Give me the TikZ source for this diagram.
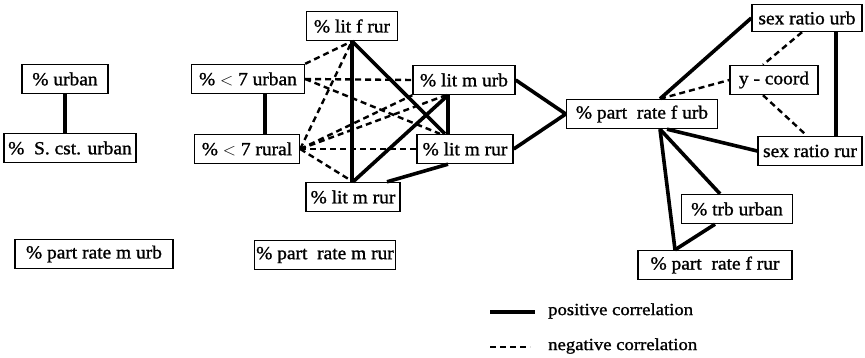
\documentclass[tikz,border=0pt]{standalone}
\usepackage{fontspec}
\setmainfont{Liberation Serif}
\newfontfamily\boxfont[FakeStretch=1.05,FakeBold=1.2]{Liberation Serif}
\newfontfamily\legfont[FakeStretch=1.1,FakeBold=1.2]{Liberation Serif}
\usetikzlibrary{calc}
\begin{document}
\begin{tikzpicture}[x=1pt,y=-1pt,
  var/.style={draw,line width=1.4pt,inner sep=2pt,minimum height=29pt,
    font=\boxfont\fontsize{18.5}{20}\selectfont,anchor=center},
  posline/.style={line width=3.6pt},
  negline/.style={line width=2.4pt,dash pattern=on 6pt off 4pt},
  legtext/.style={anchor=west,inner sep=0pt,font=\legfont\fontsize{17}{20}\selectfont}]
\useasboundingbox (0,0) rectangle (865,357);
% left
\node[var,minimum width=86pt] (urban) at (65,79) {\% urban};
\node[var,minimum width=132pt] (scst) at (70,148) {\% ~S. cst. urban};
\node[var,minimum width=158pt] (pmurb) at (94,254) {\% part rate m urb};
% middle
\node[var,minimum width=91pt] (litfrur) at (352,26) {\% lit f rur};
\node[var,minimum width=113pt] (lt7u) at (248,79) {\% $<$ 7 urban};
\node[var,minimum width=102pt] (litmurb) at (464,80) {\% lit m urb};
\node[var,minimum width=105pt] (lt7r) at (247,149) {\% $<$ 7 rural};
\node[var,minimum width=96pt] (litmrurB) at (465,149) {\% lit m rur};
\node[var,minimum width=94pt] (litmrur) at (353,197) {\% lit m rur};
\node[var,minimum width=133pt] (pmrur) at (325,255) {\% part ~rate m rur};
% right
\node[var,minimum width=151pt] (pfurb) at (642,114) {\% part ~rate f urb};
\node[var,minimum width=110pt,minimum height=27pt] (sexurb) at (807,18) {sex ratio urb};
\node[var,minimum width=88pt] (ycoord) at (774,80) {y - coord};
\node[var,minimum width=104pt] (sexrur) at (810,151) {sex ratio rur};
\node[var,minimum width=111pt] (trb) at (737,209) {\% trb urban};
\node[var,minimum width=154pt] (pfrur) at (715,265) {\% part ~rate f rur};
% left edge
\draw[posline] (urban.south) -- (urban.south |- scst.north);
% middle positive
\draw[posline] ([xshift=17pt]lt7u.south) -- ([xshift=17pt]lt7u.south |- lt7r.north);
\draw[posline] (litfrur.south) -- (litfrur.south |- litmrur.north);
\draw[posline] (litfrur.south) -- ([xshift=-20pt]litmrurB.north);
\draw[posline] ([xshift=-16pt]litmurb.south) -- ([xshift=-16pt]litmurb.south |- litmrurB.north);
\draw[posline] ([xshift=-16pt]litmurb.south) -- (litmrur.north);
\draw[posline] ([xshift=-17pt]litmrurB.south) -- ([xshift=34pt]litmrur.north);
\draw[posline] (litmurb.east) -- (pfurb.west);
\draw[posline] (litmrurB.east) -- (pfurb.west);
% middle negative
\draw[negline] (lt7u.north east) -- (litfrur.south);
\draw[negline] (lt7u.east) -- (litmurb.west);
\draw[negline] (lt7u.east) -- ([xshift=-25pt]litmrurB.north);
\draw[negline] (lt7r.east) -- (litfrur.south);
\draw[negline] (lt7r.east) -- (litmurb.south west);
\draw[negline] (lt7r.east) -- ([xshift=-18pt]litmurb.south);
\draw[negline] (lt7r.east) -- (litmrurB.west);
\draw[negline] (lt7r.east) -- (litmrur.north);
% right
\draw[posline] ([xshift=18pt]pfurb.north) -- (sexurb.west);
\draw[negline] ([xshift=18pt]pfurb.north) -- (ycoord.west);
\draw[negline] ([xshift=-5pt]sexurb.south) -- ([xshift=-11pt]ycoord.north);
\draw[negline] ([xshift=-11pt]ycoord.south) -- ([xshift=-3pt]sexrur.north);
\draw[posline] ([xshift=29pt]sexurb.south) -- ([xshift=29pt]sexurb.south |- sexrur.north);
\draw[posline] ([xshift=25pt]pfurb.south) -- (sexrur.west);
\draw[posline] ([xshift=18pt]pfurb.south) -- ([xshift=-17pt]trb.north);
\draw[posline] ([xshift=18pt]pfurb.south) -- ([xshift=-40pt]pfrur.north);
\draw[posline] ([xshift=-22pt]trb.south) -- ([xshift=-40pt]pfrur.north);
% legend
\coordinate (lp1) at (490,312);
\coordinate (lp2) at (535,312);
\coordinate (ln1) at (490,347);
\coordinate (ln2) at (530,347);
\draw[posline] (lp1) -- (lp2);
\draw[negline] (ln1) -- (ln2);
\node[legtext] (ltpos) at (548,311) {positive correlation};
\node[legtext] (ltneg) at (548,346) {negative correlation};
\end{tikzpicture}
\end{document}
